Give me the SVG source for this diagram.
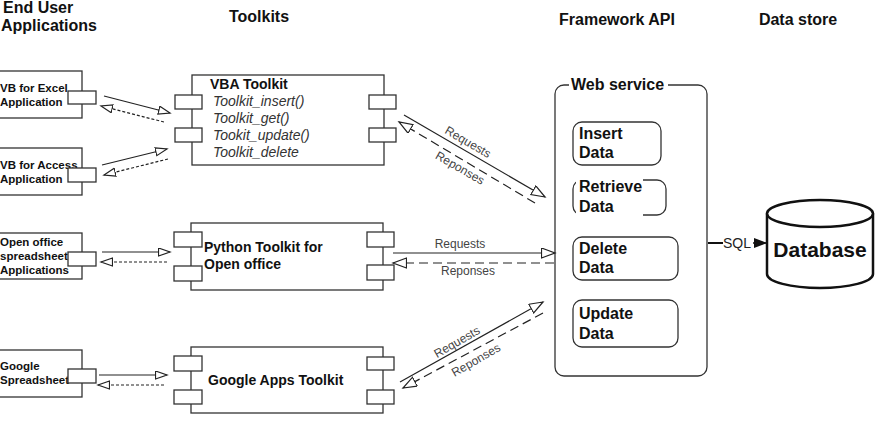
<svg xmlns="http://www.w3.org/2000/svg" width="875" height="426" viewBox="0 0 875 426">
<defs>
<style>
.box{fill:#fff;stroke:#333;stroke-width:1.3}
.port{fill:#fff;stroke:#333;stroke-width:1.3}
.hdr{font-family:"Liberation Sans",Arial,sans-serif;font-weight:bold;font-size:16px;fill:#111}
.app{font-family:"Liberation Sans",Arial,sans-serif;font-weight:bold;font-size:11.5px;fill:#111}
.tk{font-family:"Liberation Sans",Arial,sans-serif;font-weight:bold;font-size:14px;fill:#111}
.it{font-family:"Liberation Sans",Arial,sans-serif;font-style:italic;font-size:14px;fill:#333}
.op{font-family:"Liberation Sans",Arial,sans-serif;font-weight:bold;font-size:16px;fill:#111}
.lbl{font-family:"Liberation Sans",Arial,sans-serif;font-size:12px;fill:#444}
.c{fill:none;stroke:#222;stroke-width:1.2}
.cs{stroke-dasharray:3,2}
.cl{stroke-dasharray:9,5}
</style>
<marker id="ah" markerUnits="userSpaceOnUse" markerWidth="14" markerHeight="10" refX="12" refY="4.5" orient="auto">
<path d="M0.5,0.5 L12,4.5 L0.5,8.5 z" fill="#fff" stroke="#222" stroke-width="1.2"/>
</marker>
<marker id="ahl" markerUnits="userSpaceOnUse" markerWidth="16" markerHeight="12" refX="14" refY="5.5" orient="auto">
<path d="M0.5,0.5 L14,5.5 L0.5,10.5 z" fill="#fff" stroke="#222" stroke-width="1.2"/>
</marker>
<marker id="af" markerUnits="userSpaceOnUse" markerWidth="14" markerHeight="12" refX="13" refY="5" orient="auto">
<path d="M0,0 L13,5 L0,10 z" fill="#111"/>
</marker>
</defs>
<rect width="875" height="426" fill="#fff"/>

<g id="headers">
<text class="hdr" x="3" y="13">End User</text>
<text class="hdr" x="1" y="31">Applications</text>
<text class="hdr" x="259" y="22" text-anchor="middle">Toolkits</text>
<text class="hdr" x="617" y="25" text-anchor="middle">Framework API</text>
<text class="hdr" x="798" y="25" text-anchor="middle">Data store</text>
</g>

<g id="excel">
<rect class="box" x="-10" y="71" width="92" height="47"/>
<text class="app" x="0" y="92">VB for Excel</text>
<text class="app" x="0" y="106">Application</text>
<rect class="port" x="68" y="91" width="28" height="13"/>
</g>
<g id="access">
<rect class="box" x="-10" y="148" width="92" height="47"/>
<text class="app" x="0" y="169">VB for Access</text>
<text class="app" x="0" y="183">Application</text>
<rect class="port" x="68" y="168" width="28" height="14"/>
</g>
<g id="openoffice">
<rect class="box" x="-10" y="233" width="92" height="46"/>
<text class="app" x="0" y="246">Open office</text>
<text class="app" x="0" y="260">spreadsheet</text>
<text class="app" x="0" y="274">Applications</text>
<rect class="port" x="68" y="252" width="28" height="14"/>
</g>
<g id="google">
<rect class="box" x="-10" y="350" width="92" height="47"/>
<text class="app" x="0" y="370">Google</text>
<text class="app" x="0" y="384">Spreadsheet</text>
<rect class="port" x="68" y="369" width="28" height="14"/>
</g>

<g id="vba-toolkit">
<rect class="box" x="192" y="75" width="192" height="90"/>
<rect class="port" x="175" y="95" width="27" height="14"/>
<rect class="port" x="175" y="128" width="27" height="14"/>
<rect class="port" x="369" y="95" width="27" height="14"/>
<rect class="port" x="369" y="128" width="27" height="14"/>
<text class="tk" x="210" y="89">VBA Toolkit</text>
<text class="it" x="213" y="106">Toolkit_insert()</text>
<text class="it" x="213" y="123">Toolkit_get()</text>
<text class="it" x="213" y="140">Tookit_update()</text>
<text class="it" x="213" y="157">Toolkit_delete</text>
</g>
<g id="python-toolkit">
<rect class="box" x="191" y="223" width="192" height="67"/>
<rect class="port" x="174" y="232" width="28" height="15"/>
<rect class="port" x="174" y="266" width="28" height="15"/>
<rect class="port" x="367" y="232" width="27" height="15"/>
<rect class="port" x="367" y="265" width="27" height="15"/>
<text class="tk" x="204" y="252">Python Toolkit for</text>
<text class="tk" x="204" y="269">Open office</text>
</g>
<g id="google-toolkit">
<rect class="box" x="191" y="347" width="192" height="66"/>
<rect class="port" x="174" y="356" width="28" height="15"/>
<rect class="port" x="174" y="390" width="28" height="14"/>
<rect class="port" x="367" y="357" width="27" height="13"/>
<rect class="port" x="367" y="390" width="27" height="14"/>
<text class="tk" x="208" y="385" font-size="13.5">Google Apps Toolkit</text>
</g>

<g id="web-service">
<rect class="box" x="555" y="85" width="152" height="291" rx="9"/>
<rect x="569" y="80" width="99" height="12" fill="#fff"/>
<text class="op" x="571" y="90">Web service</text>
</g>
<g id="insert-data">
<rect class="box" x="573" y="122" width="88" height="43" rx="9"/>
<text class="op" x="579" y="139">Insert</text>
<text class="op" x="579" y="158">Data</text>
</g>
<g id="retrieve-data">
<rect class="box" x="573" y="180" width="93" height="35" rx="9"/>
<rect x="576" y="178" width="67" height="40" fill="#fff"/>
<text class="op" x="579" y="192">Retrieve</text>
<text class="op" x="579" y="212">Data</text>
</g>
<g id="delete-data">
<rect class="box" x="573" y="237" width="105" height="43" rx="9"/>
<text class="op" x="579" y="254">Delete</text>
<text class="op" x="579" y="273">Data</text>
</g>
<g id="update-data">
<rect class="box" x="573" y="300" width="105" height="47" rx="9"/>
<text class="op" x="579" y="319">Update</text>
<text class="op" x="579" y="339">Data</text>
</g>

<g id="database">
<path d="M767,213.5 L767,274 A53,14 0 0 0 873,274 L873,213.5" fill="#fff" stroke="#111" stroke-width="2.5"/>
<ellipse cx="820" cy="213.5" rx="53" ry="13.5" fill="#fff" stroke="#111" stroke-width="2.5"/>
<text x="820" y="257" text-anchor="middle" font-family="'Liberation Sans',Arial,sans-serif" font-weight="bold" font-size="21" fill="#111">Database</text>
</g>

<g id="connectors">
<line class="c" x1="104" y1="96" x2="170" y2="113" marker-end="url(#ah)"/>
<line class="c cs" x1="164" y1="122" x2="101" y2="106" marker-end="url(#ah)"/>
<line class="c" x1="102" y1="165" x2="167" y2="149" marker-end="url(#ah)"/>
<line class="c cs" x1="168" y1="159" x2="104" y2="175" marker-end="url(#ah)"/>
<line class="c" x1="102" y1="252" x2="170" y2="252" marker-end="url(#ah)"/>
<line class="c cs" x1="167" y1="262" x2="101" y2="262" marker-end="url(#ah)"/>
<line class="c" x1="99" y1="375" x2="167" y2="375" marker-end="url(#ah)"/>
<line class="c cs" x1="164" y1="385" x2="98" y2="385" marker-end="url(#ah)"/>

<line class="c" x1="404" y1="115" x2="545" y2="197" marker-end="url(#ahl)"/>
<line class="c cl" x1="535" y1="203" x2="399" y2="122" marker-end="url(#ahl)"/>
<line class="c" x1="393" y1="253" x2="555" y2="253" marker-end="url(#ahl)"/>
<line class="c cl" x1="554" y1="263" x2="393" y2="263" marker-end="url(#ahl)"/>
<line class="c" x1="400" y1="382" x2="543" y2="302" marker-end="url(#ahl)"/>
<line class="c cl" x1="543" y1="313" x2="403" y2="388" marker-end="url(#ahl)"/>

<line x1="708" y1="243" x2="723" y2="243" stroke="#111" stroke-width="2"/>
<line x1="753" y1="243" x2="767" y2="243" stroke="#111" stroke-width="1.5" marker-end="url(#af)"/>
<text x="723" y="248" font-family="'Liberation Sans',Arial,sans-serif" font-size="14" fill="#222">SQL</text>

<text class="lbl" text-anchor="middle" transform="translate(468,142) rotate(30)" y="4">Requests</text>
<text class="lbl" text-anchor="middle" transform="translate(460,168) rotate(30)" y="4">Reponses</text>
<text class="lbl" text-anchor="middle" x="460" y="248">Requests</text>
<text class="lbl" text-anchor="middle" x="468" y="275">Reponses</text>
<text class="lbl" text-anchor="middle" transform="translate(457,342) rotate(-30)" y="4">Requests</text>
<text class="lbl" text-anchor="middle" transform="translate(476,360) rotate(-30)" y="4">Reponses</text>
</g>
</svg>
